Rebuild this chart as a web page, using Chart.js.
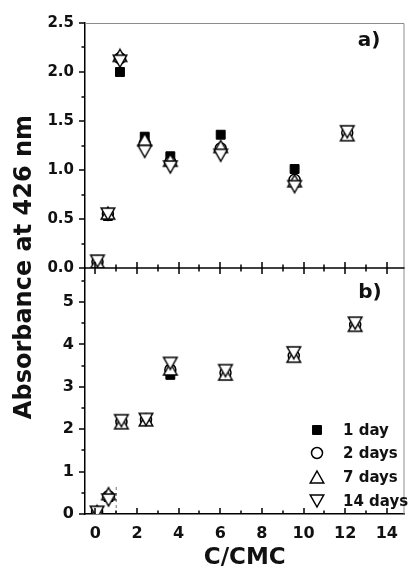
<!DOCTYPE html>
<html><head><meta charset="utf-8">
<script src="https://cdn.jsdelivr.net/npm/chart.js@4/dist/chart.umd.min.js"></script>
<style>html,body{margin:0;padding:0;background:#fff;}canvas{display:block}</style>
</head><body>
<canvas id="c" width="414" height="570"></canvas>
<script>
// ---- data ----
const seriesNames = ['1 day', '2 days', '7 days', '14 days'];
const xA = [0.10, 0.60, 1.18, 2.37, 3.60, 6.02, 9.57, 12.10];
const a1 = [0.05, 0.53, 2.00, 1.34, 1.14, 1.36, 1.01, 1.37];
const a2 = [0.06, 0.55, 2.14, 1.27, 1.08, 1.22, 0.90, 1.38];
const a7 = [0.06, 0.56, 2.17, 1.31, 1.10, 1.24, 0.89, 1.36];
const a14 = [0.07, 0.55, 2.11, 1.19, 1.03, 1.15, 0.83, 1.39];
const xB = [0.08, 0.63, 1.25, 2.43, 3.60, 6.25, 9.53, 12.48];
const b1 = [0.05, 0.40, 2.15, 2.20, 3.28, 3.30, 3.70, 4.43];
const b2 = [0.05, 0.42, 2.17, 2.22, 3.40, 3.33, 3.73, 4.46];
const b7 = [0.06, 0.48, 2.15, 2.22, 3.42, 3.30, 3.72, 4.45];
const b14 = [0.04, 0.33, 2.20, 2.23, 3.55, 3.38, 3.80, 4.50];
const cmcX = [1, 1];
const cmcY = [0, 0.67];
const xTicks = [0, 2, 4, 6, 8, 10, 12, 14];
const xMinor = [1, 3, 5, 7, 9, 11, 13];
const yTicksA = [0, 0.5, 1.0, 1.5, 2.0, 2.5];
const yMinorA = [0.25, 0.75, 1.25, 1.75, 2.25];
const yTicksB = [0, 1, 2, 3, 4, 5];
const yMinorB = [0.5, 1.5, 2.5, 3.5, 4.5, 5.5];
const panelLabels = ['a)', 'b)'];
const yTitle = 'Absorbance at 426 nm';
const xTitle = 'C/CMC';

// ---- marker styles ----
const FONT = "'DejaVu Sans', sans-serif";
function triCanvas(up) {
  const c = document.createElement('canvas');
  c.width = 18; c.height = 16;
  const g = c.getContext('2d');
  const w = 13.5, h = 12, cx = 9, cy = 8;
  g.strokeStyle = '#000'; g.fillStyle = '#fff'; g.lineWidth = 1.5; g.lineJoin = 'miter';
  g.beginPath();
  if (up) { g.moveTo(cx, cy - h / 2); g.lineTo(cx + w / 2, cy + h / 2); g.lineTo(cx - w / 2, cy + h / 2); }
  else { g.moveTo(cx, cy + h / 2); g.lineTo(cx + w / 2, cy - h / 2); g.lineTo(cx - w / 2, cy - h / 2); }
  g.closePath(); g.fill(); g.stroke();
  return c;
}
const upTri = triCanvas(true), downTri = triCanvas(false);
const styles = [
  { pointStyle: 'rect', radius: 6.3, bg: '#000', bw: 1 },
  { pointStyle: 'circle', radius: 5.5, bg: '#fff', bw: 1.5 },
  { pointStyle: upTri, radius: 8, bg: '#fff', bw: 1.5 },
  { pointStyle: downTri, radius: 8, bg: '#fff', bw: 1.5 }
];
function pts(xs, ys) { return xs.map((x, i) => ({ x: x, y: ys[i] })); }
function ds(name, xs, ys, k, axis) {
  const s = styles[k];
  return { label: name, data: pts(xs, ys), yAxisID: axis, showLine: false, order: 4 - k,
    pointStyle: s.pointStyle, pointRadius: s.radius, pointHoverRadius: s.radius,
    pointBackgroundColor: s.bg, pointBorderColor: '#000', pointBorderWidth: s.bw };
}
const seriesA = [a1, a2, a7, a14], seriesB = [b1, b2, b7, b14];
const datasets = [];
seriesA.forEach((ys, k) => datasets.push(ds(seriesNames[k], xA, ys, k, 'yA')));
seriesB.forEach((ys, k) => datasets.push(ds(seriesNames[k], xB, ys, k, 'yB')));
datasets.push({ label: 'CMC', data: pts(cmcX, cmcY), yAxisID: 'yB', showLine: true,
  borderColor: '#777', borderWidth: 1, borderDash: [3, 3], pointRadius: 0, order: 10 });

const tickFont = { family: FONT, size: 16, weight: 'bold' };

const deco = {
  id: 'deco',
  afterDraw(chart) {
    const { ctx, chartArea: ca, scales } = chart;
    const sx = scales.x, ya = scales.yA, yb = scales.yB;
    ctx.save();
    // top & right frame
    ctx.strokeStyle = '#8c8c8c'; ctx.lineWidth = 1;
    ctx.beginPath();
    ctx.moveTo(ca.left, ca.top + 0.5); ctx.lineTo(ca.right - 0.5, ca.top + 0.5); ctx.lineTo(ca.right - 0.5, ca.bottom);
    ctx.stroke();
    // middle axis
    const midY = ya.bottom;
    ctx.strokeStyle = '#000'; ctx.lineWidth = 1.5;
    ctx.beginPath(); ctx.moveTo(ca.left, midY); ctx.lineTo(ca.right, midY); ctx.stroke();
    // x ticks
    ctx.lineWidth = 1.5;
    const xt = (vals, len) => vals.forEach(v => {
      const px = Math.round(sx.getPixelForValue(v));
      ctx.beginPath();
      ctx.moveTo(px, ca.bottom); ctx.lineTo(px, ca.bottom - len);
      ctx.moveTo(px, midY - len); ctx.lineTo(px, midY + len);
      ctx.stroke();
    });
    xt(xTicks, 6); xt(xMinor, 3.5);
    // y ticks (outside)
    const yt = (sc, vals, len) => vals.forEach(v => {
      const py = Math.round(sc.getPixelForValue(v));
      ctx.beginPath(); ctx.moveTo(ca.left, py); ctx.lineTo(ca.left - len, py); ctx.stroke();
    });
    yt(ya, yTicksA, 6); yt(ya, yMinorA, 3.5); yt(yb, yTicksB, 6); yt(yb, yMinorB, 3.5);
    // panel labels
    ctx.fillStyle = '#111';
    ctx.font = 'bold 20px ' + FONT;
    ctx.textAlign = 'center'; ctx.textBaseline = 'middle';
    ctx.fillText(panelLabels[0], 369, 41);
    ctx.fillText(panelLabels[1], 370, 293);
    // y title
    ctx.save();
    ctx.translate(25, 267); ctx.rotate(-Math.PI / 2);
    ctx.font = 'bold 24px ' + FONT;
    ctx.textAlign = 'center'; ctx.textBaseline = 'middle';
    ctx.fillText(yTitle, 0, 0);
    ctx.restore();
    // legend
    const rows = [430, 453, 477, 501];
    ctx.font = 'bold 15px ' + FONT;
    ctx.textAlign = 'left'; ctx.textBaseline = 'middle';
    styles.forEach((s, k) => {
      ctx.fillStyle = s.bg; ctx.strokeStyle = '#000'; ctx.lineWidth = s.bw;
      Chart.helpers.drawPoint(ctx, { pointStyle: s.pointStyle, radius: s.radius, borderWidth: s.bw, rotation: 0 }, 317, rows[k]);
      ctx.fillStyle = '#111';
      ctx.fillText(seriesNames[k], 343, rows[k] + 1);
    });
    ctx.restore();
  }
};

new Chart(document.getElementById('c'), {
  type: 'scatter',
  data: { datasets },
  options: {
    responsive: false, animation: false, devicePixelRatio: 1,
    layout: { padding: { top: 23, right: 2, left: 0, bottom: 0 } },
    plugins: { legend: { display: false }, tooltip: { enabled: false } },
    scales: {
      x: {
        type: 'linear', position: 'bottom', min: -0.5, max: 14.85,
        afterFit: s => { s.height = 56; },
        afterBuildTicks: s => { s.ticks = xTicks.map(v => ({ value: v })); },
        grid: { display: false, drawTicks: false },
        border: { display: true, color: '#000', width: 1.5 },
        ticks: { font: tickFont, color: '#111', padding: 10, maxRotation: 0, autoSkip: false },
        title: { display: true, text: xTitle, color: '#111', font: { family: FONT, size: 23, weight: 'bold', lineHeight: 1 }, padding: { top: 0, bottom: 0 } }
      },
      yA: {
        type: 'linear', position: 'left', stack: 'v', stackWeight: 245, weight: 1,
        min: 0, max: 2.5,
        afterFit: s => { s.width = 85; },
        afterBuildTicks: s => { s.ticks = yTicksA.map(v => ({ value: v })); },
        grid: { display: false, drawTicks: false },
        border: { display: true, color: '#000', width: 1.5 },
        ticks: { font: { family: FONT, size: 15, weight: 'bold' }, color: '#111', padding: 11, autoSkip: false, callback: v => v.toFixed(1) }
      },
      yB: {
        type: 'linear', position: 'left', stack: 'v', stackWeight: 246, weight: 0,
        min: 0, max: 5.8,
        afterFit: s => { s.width = 85; },
        afterBuildTicks: s => { s.ticks = yTicksB.map(v => ({ value: v })); },
        grid: { display: false, drawTicks: false },
        border: { display: true, color: '#000', width: 1.5 },
        ticks: { font: { family: FONT, size: 16, weight: 'bold' }, color: '#111', padding: 11, autoSkip: false, callback: v => String(v) }
      }
    }
  },
  plugins: [deco]
});
</script>
</body></html>
